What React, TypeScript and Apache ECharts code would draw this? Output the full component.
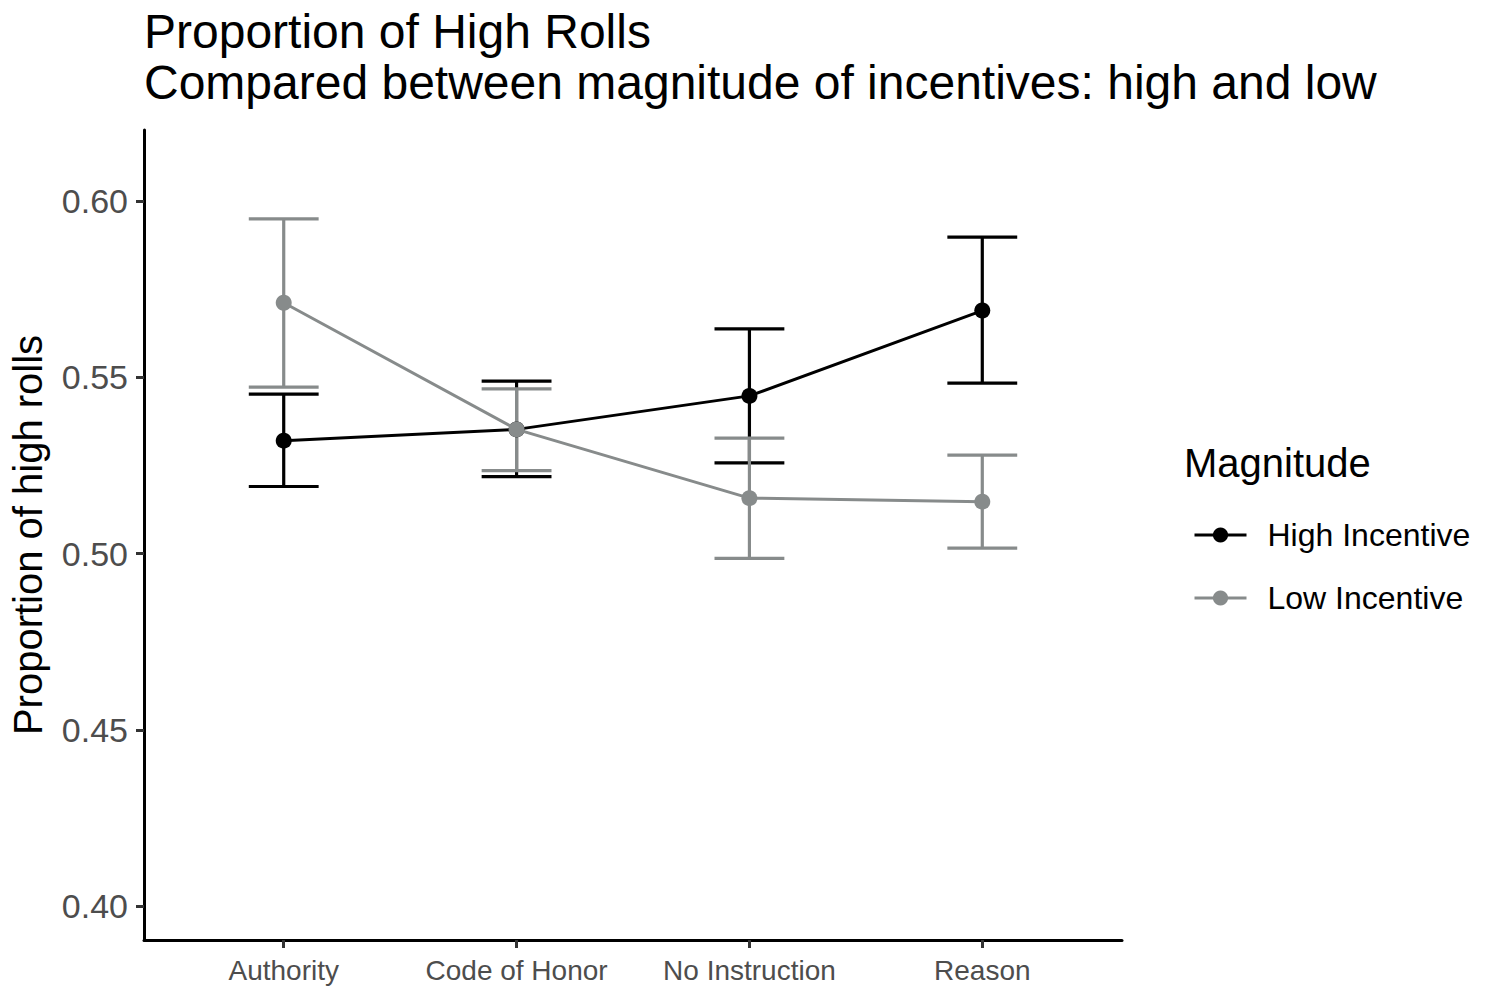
import React, { useEffect, useRef } from "react";
import * as echarts from "echarts";

const categories = ["Authority", "Code of Honor", "No Instruction", "Reason"];
const seriesNames = ["High Incentive", "Low Incentive"];
const highMean = [0.532, 0.5352, 0.5447, 0.5689];
const highLower = [0.519, 0.5218, 0.5257, 0.5483];
const highUpper = [0.5452, 0.5489, 0.5637, 0.5897];
const lowMean = [0.5711, 0.5352, 0.5157, 0.5147];
const lowLower = [0.5472, 0.5235, 0.4986, 0.5015];
const lowUpper = [0.5949, 0.5467, 0.5327, 0.5279];
const yTicks = [0.4, 0.45, 0.5, 0.55, 0.6];
const xTicks = [0, 1, 2, 3];

const HIGH_COLOR = "#000000";
const LOW_COLOR = "#878b8b";
const FONT = "Liberation Sans, Arial, sans-serif";

function errorBarSeries(name: string, lower: number[], upper: number[], color: string, z: number) {
  return {
    type: "custom",
    name,
    z,
    silent: true,
    data: lower.map((lo, i) => [i, lo, upper[i]]),
    encode: { x: 0, y: [1, 2] },
    renderItem: (params: any, api: any) => {
      const x = api.value(0);
      const lo = api.value(1);
      const hi = api.value(2);
      const pLo = api.coord([x, lo]);
      const pHi = api.coord([x, hi]);
      const left = api.coord([x - 0.15, lo])[0];
      const right = api.coord([x + 0.15, lo])[0];
      const style = { stroke: color, lineWidth: 3.2, fill: "none" };
      return {
        type: "group",
        children: [
          { type: "line", shape: { x1: pLo[0], y1: pLo[1], x2: pHi[0], y2: pHi[1] }, style },
          { type: "line", shape: { x1: left, y1: pHi[1], x2: right, y2: pHi[1] }, style },
          { type: "line", shape: { x1: left, y1: pLo[1], x2: right, y2: pLo[1] }, style },
        ],
      };
    },
  };
}

function lineSeries(name: string, values: number[], color: string, z: number) {
  return {
    type: "line",
    name,
    z,
    data: values.map((v, i) => [i, v]),
    symbol: "circle",
    symbolSize: 16,
    lineStyle: { color, width: 3 },
    itemStyle: { color },
  };
}

export default function App() {
  const ref = useRef<HTMLDivElement>(null);
  useEffect(() => {
    if (!ref.current) return;
    const chart = echarts.init(ref.current, null, { renderer: "svg" });
    chart.setOption({
      animation: false,
      backgroundColor: "#ffffff",
      textStyle: { fontFamily: FONT },
      title: {
        text: "Proportion of High Rolls\nCompared between magnitude of incentives: high and low",
        left: 139,
        top: 1,
        textStyle: { fontSize: 48, fontWeight: "normal", color: "#000000", lineHeight: 51, fontFamily: FONT },
      },
      grid: { left: 144, right: 366, top: 130, bottom: 50, containLabel: false },
      legend: {
        orient: "vertical",
        left: 1188,
        top: 514,
        itemWidth: 52,
        itemHeight: 19,
        itemGap: 31,
        data: seriesNames,
        lineStyle: { width: 3 },
        textStyle: { fontSize: 32, color: "#000000", fontFamily: FONT, padding: [0, 0, 0, 16] },
      },
      graphic: [
        {
          type: "text",
          left: 1184,
          top: 443,
          style: { text: "Magnitude", fontSize: 40, fill: "#000000", fontFamily: FONT },
        },
      ],
      xAxis: {
        type: "value",
        min: -0.6,
        max: 3.6,
        splitLine: { show: false },
        axisLine: { show: true, onZero: false, lineStyle: { color: "#000000", width: 3 } },
        axisTick: { show: true, customValues: xTicks, length: 8, lineStyle: { color: "#333333", width: 3 } },
        axisLabel: {
          customValues: xTicks,
          formatter: (v: number) => categories[Math.round(v)] ?? "",
          color: "#4d4d4d",
          fontSize: 28,
          margin: 16,
          fontFamily: FONT,
        },
      },
      yAxis: {
        type: "value",
        min: 0.3904,
        max: 0.6201,
        name: "Proportion of high rolls",
        nameLocation: "middle",
        nameGap: 96,
        nameTextStyle: { fontSize: 40, color: "#000000", fontFamily: FONT },
        splitLine: { show: false },
        axisLine: { show: true, onZero: false, lineStyle: { color: "#000000", width: 3 } },
        axisTick: { show: true, customValues: yTicks, length: 8, lineStyle: { color: "#333333", width: 3 } },
        axisLabel: {
          customValues: yTicks,
          formatter: (v: number) => v.toFixed(2),
          color: "#4d4d4d",
          fontSize: 34,
          margin: 16,
          fontFamily: FONT,
        },
      },
      series: [
        errorBarSeries("High Incentive err", highLower, highUpper, HIGH_COLOR, 1),
        errorBarSeries("Low Incentive err", lowLower, lowUpper, LOW_COLOR, 2),
        lineSeries(seriesNames[0], highMean, HIGH_COLOR, 3),
        lineSeries(seriesNames[1], lowMean, LOW_COLOR, 4),
      ],
    });
    return () => chart.dispose();
  }, []);
  return (
    <div
      ref={ref}
      style={{ position: "fixed", left: 0, top: 0, width: 1488, height: 990, background: "#fff" }}
    />
  );
}
